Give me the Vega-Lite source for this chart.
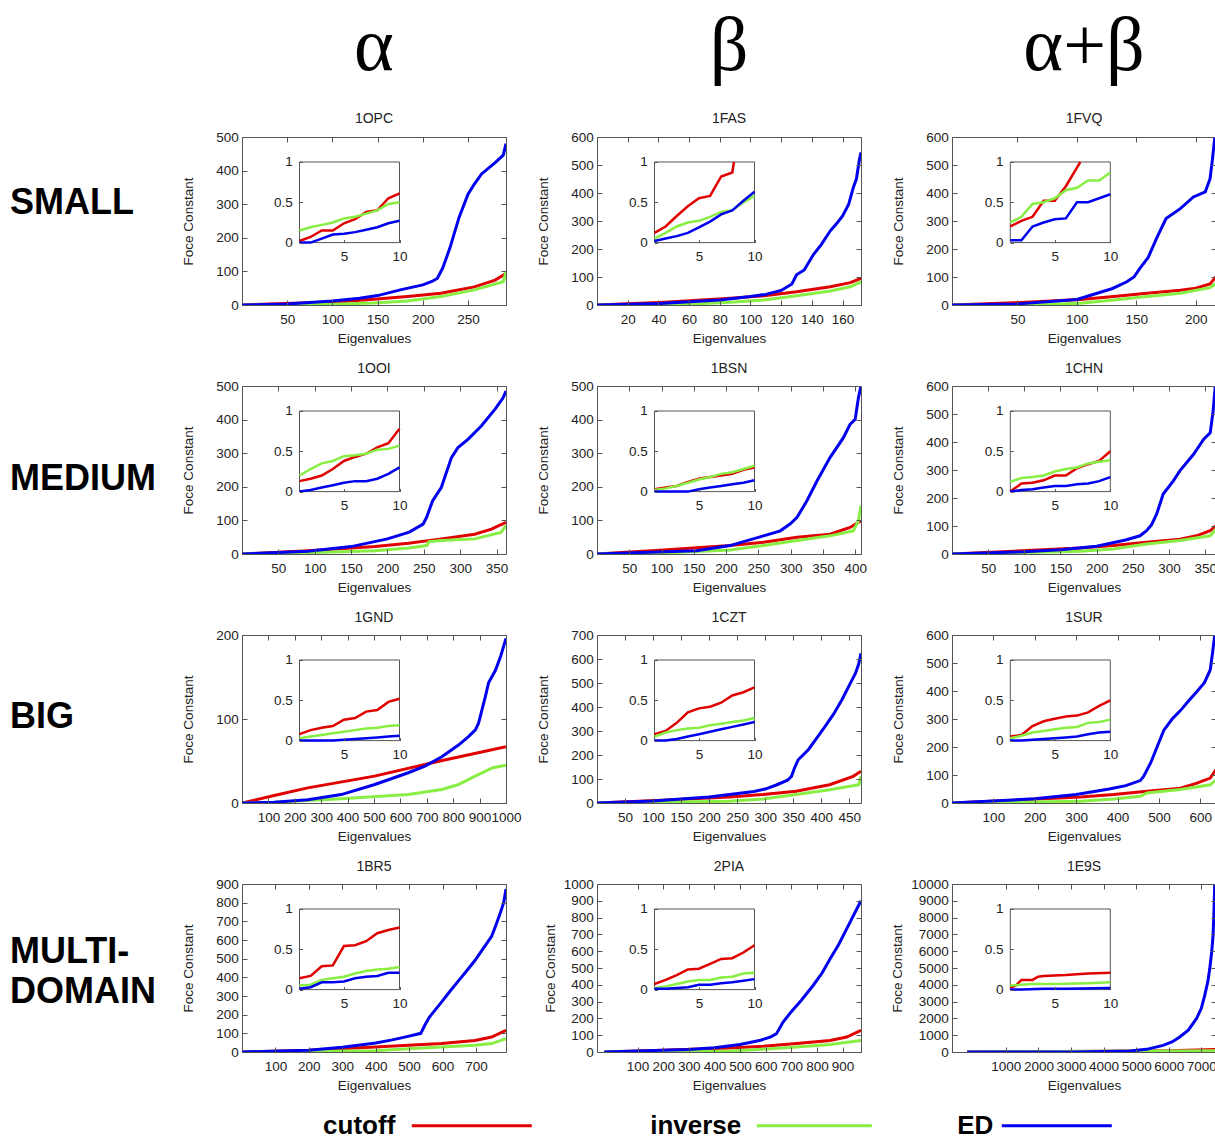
{
"$schema":"https://vega.github.io/schema/vega-lite/v6.json",
"padding":{"left":10,"top":8,"right":0,"bottom":0},
"background":"white",
"bounds":"flush",
"columns":4,
"spacing":{"row":81,"column":91},
"resolve":{"legend":{"color":"independent"}},
"config":{
 "font":"Liberation Sans",
 "view":{"stroke":"#555","strokeWidth":1},
 "axis":{"grid":false,"domain":false,"tickSize":-5,"tickColor":"#555","labelFontSize":13.5,"labelColor":"#222","labelFlush":false,"labelOverlap":false,"titleFontSize":13.5,"titleFontWeight":"normal","titleColor":"#222"},
 "axisX":{"labelPadding":12.3,"titlePadding":6},
 "axisY":{"labelPadding":8.7,"titlePadding":20},
 "title":{"fontSize":14,"fontWeight":"normal","color":"#222","offset":3,"anchor":"middle","frame":"group"},
 "legend":{"labelFontSize":26,"labelFontWeight":"bold","labelColor":"#000","labelFont":"Liberation Sans","labelAlign":"right","symbolType":"stroke","symbolStrokeWidth":9,"padding":0,"orient":"none"},
 "line":{"strokeWidth":3}
},
"datasets":{
"m1":[{"s":"cutoff","x":0,"y":0},{"s":"cutoff","x":109,"y":10},{"s":"cutoff","x":146,"y":17},{"s":"cutoff","x":183,"y":25},{"s":"cutoff","x":220,"y":35},{"s":"cutoff","x":257,"y":54},{"s":"cutoff","x":280,"y":74},{"s":"cutoff","x":292,"y":94},
{"s":"inverse","x":0,"y":0},{"s":"inverse","x":100,"y":2},{"s":"inverse","x":146,"y":6},{"s":"inverse","x":183,"y":12},{"s":"inverse","x":220,"y":25},{"s":"inverse","x":257,"y":45},{"s":"inverse","x":289,"y":69},{"s":"inverse","x":292,"y":99},
{"s":"ED","x":0,"y":0},{"s":"ED","x":50,"y":3},{"s":"ED","x":100,"y":12},{"s":"ED","x":130,"y":20},{"s":"ED","x":150,"y":28},{"s":"ED","x":175,"y":45},{"s":"ED","x":200,"y":60},{"s":"ED","x":210,"y":70},{"s":"ED","x":216,"y":79},{"s":"ED","x":222,"y":110},{"s":"ED","x":230,"y":170},{"s":"ED","x":240,"y":260},{"s":"ED","x":250,"y":330},{"s":"ED","x":257,"y":360},{"s":"ED","x":265,"y":390},{"s":"ED","x":280,"y":424},{"s":"ED","x":289,"y":446},{"s":"ED","x":292,"y":480}],
"i1":[{"s":"cutoff","x":1,"y":0.02},{"s":"cutoff","x":2,"y":0.07},{"s":"cutoff","x":3,"y":0.15},{"s":"cutoff","x":4,"y":0.15},{"s":"cutoff","x":5,"y":0.24},{"s":"cutoff","x":6,"y":0.29},{"s":"cutoff","x":7,"y":0.38},{"s":"cutoff","x":8,"y":0.4},{"s":"cutoff","x":9,"y":0.55},{"s":"cutoff","x":10,"y":0.61},
{"s":"inverse","x":1,"y":0.15},{"s":"inverse","x":2,"y":0.19},{"s":"inverse","x":3,"y":0.22},{"s":"inverse","x":4,"y":0.25},{"s":"inverse","x":5,"y":0.3},{"s":"inverse","x":6,"y":0.32},{"s":"inverse","x":7,"y":0.36},{"s":"inverse","x":8,"y":0.4},{"s":"inverse","x":9,"y":0.48},{"s":"inverse","x":10,"y":0.5},
{"s":"ED","x":1,"y":0},{"s":"ED","x":2,"y":0},{"s":"ED","x":3,"y":0.05},{"s":"ED","x":4,"y":0.1},{"s":"ED","x":5,"y":0.11},{"s":"ED","x":6,"y":0.13},{"s":"ED","x":7,"y":0.16},{"s":"ED","x":8,"y":0.19},{"s":"ED","x":9,"y":0.24},{"s":"ED","x":10,"y":0.27}],
"m2":[{"s":"cutoff","x":0,"y":0},{"s":"cutoff","x":44,"y":10},{"s":"cutoff","x":87,"y":24},{"s":"cutoff","x":109,"y":33},{"s":"cutoff","x":130,"y":47},{"s":"cutoff","x":152,"y":65},{"s":"cutoff","x":165,"y":80},{"s":"cutoff","x":172,"y":95},
{"s":"inverse","x":0,"y":0},{"s":"inverse","x":60,"y":3},{"s":"inverse","x":87,"y":10},{"s":"inverse","x":109,"y":18},{"s":"inverse","x":130,"y":33},{"s":"inverse","x":152,"y":50},{"s":"inverse","x":165,"y":65},{"s":"inverse","x":172,"y":83},
{"s":"ED","x":0,"y":0},{"s":"ED","x":40,"y":5},{"s":"ED","x":80,"y":18},{"s":"ED","x":100,"y":30},{"s":"ED","x":110,"y":38},{"s":"ED","x":120,"y":52},{"s":"ED","x":127,"y":75},{"s":"ED","x":130,"y":108},{"s":"ED","x":135,"y":125},{"s":"ED","x":141,"y":180},{"s":"ED","x":146,"y":215},{"s":"ED","x":152,"y":265},{"s":"ED","x":156,"y":290},{"s":"ED","x":160,"y":318},{"s":"ED","x":164,"y":360},{"s":"ED","x":167,"y":420},{"s":"ED","x":169,"y":450},{"s":"ED","x":171,"y":520},{"s":"ED","x":172,"y":545}],
"i2":[{"s":"cutoff","x":1,"y":0.12},{"s":"cutoff","x":2,"y":0.2},{"s":"cutoff","x":3,"y":0.33},{"s":"cutoff","x":4,"y":0.45},{"s":"cutoff","x":5,"y":0.55},{"s":"cutoff","x":6,"y":0.58},{"s":"cutoff","x":7,"y":0.82},{"s":"cutoff","x":8,"y":0.87},{"s":"cutoff","x":8.15,"y":1},
{"s":"inverse","x":1,"y":0.05},{"s":"inverse","x":2,"y":0.12},{"s":"inverse","x":3,"y":0.2},{"s":"inverse","x":4,"y":0.25},{"s":"inverse","x":5,"y":0.27},{"s":"inverse","x":6,"y":0.32},{"s":"inverse","x":7,"y":0.38},{"s":"inverse","x":8,"y":0.4},{"s":"inverse","x":9,"y":0.5},{"s":"inverse","x":10,"y":0.58},
{"s":"ED","x":1,"y":0.02},{"s":"ED","x":2,"y":0.05},{"s":"ED","x":3,"y":0.08},{"s":"ED","x":4,"y":0.12},{"s":"ED","x":5,"y":0.19},{"s":"ED","x":6,"y":0.26},{"s":"ED","x":7,"y":0.35},{"s":"ED","x":8,"y":0.4},{"s":"ED","x":9,"y":0.52},{"s":"ED","x":10,"y":0.63}],
"m3":[{"s":"cutoff","x":-5,"y":0},{"s":"cutoff","x":47,"y":8},{"s":"cutoff","x":103,"y":20},{"s":"cutoff","x":131,"y":30},{"s":"cutoff","x":159,"y":42},{"s":"cutoff","x":187,"y":53},{"s":"cutoff","x":200,"y":60},{"s":"cutoff","x":212,"y":75},{"s":"cutoff","x":217,"y":101},
{"s":"inverse","x":-5,"y":0},{"s":"inverse","x":60,"y":1},{"s":"inverse","x":103,"y":6},{"s":"inverse","x":131,"y":18},{"s":"inverse","x":159,"y":30},{"s":"inverse","x":187,"y":42},{"s":"inverse","x":212,"y":62},{"s":"inverse","x":217,"y":77},
{"s":"ED","x":-5,"y":0},{"s":"ED","x":50,"y":4},{"s":"ED","x":100,"y":20},{"s":"ED","x":130,"y":59},{"s":"ED","x":142,"y":83},{"s":"ED","x":148,"y":100},{"s":"ED","x":153,"y":131},{"s":"ED","x":160,"y":170},{"s":"ED","x":167,"y":238},{"s":"ED","x":175,"y":309},{"s":"ED","x":187,"y":344},{"s":"ED","x":198,"y":386},{"s":"ED","x":208,"y":404},{"s":"ED","x":212,"y":451},{"s":"ED","x":214,"y":520},{"s":"ED","x":216,"y":600}],
"i3":[{"s":"cutoff","x":1,"y":0.2},{"s":"cutoff","x":2,"y":0.27},{"s":"cutoff","x":3,"y":0.32},{"s":"cutoff","x":4,"y":0.52},{"s":"cutoff","x":5,"y":0.52},{"s":"cutoff","x":6,"y":0.7},{"s":"cutoff","x":7,"y":0.93},{"s":"cutoff","x":7.3,"y":1},
{"s":"inverse","x":1,"y":0.25},{"s":"inverse","x":2,"y":0.32},{"s":"inverse","x":3,"y":0.48},{"s":"inverse","x":4,"y":0.5},{"s":"inverse","x":5,"y":0.55},{"s":"inverse","x":6,"y":0.65},{"s":"inverse","x":7,"y":0.68},{"s":"inverse","x":8,"y":0.77},{"s":"inverse","x":9,"y":0.77},{"s":"inverse","x":10,"y":0.87},
{"s":"ED","x":1,"y":0.03},{"s":"ED","x":2,"y":0.03},{"s":"ED","x":3,"y":0.2},{"s":"ED","x":4,"y":0.25},{"s":"ED","x":5,"y":0.29},{"s":"ED","x":6,"y":0.3},{"s":"ED","x":7,"y":0.5},{"s":"ED","x":8,"y":0.5},{"s":"ED","x":9,"y":0.55},{"s":"ED","x":10,"y":0.6}],
"m4":[{"s":"cutoff","x":0,"y":0},{"s":"cutoff","x":91,"y":10},{"s":"cutoff","x":183,"y":22},{"s":"cutoff","x":229,"y":32},{"s":"cutoff","x":274,"y":45},{"s":"cutoff","x":320,"y":59},{"s":"cutoff","x":343,"y":74},{"s":"cutoff","x":363,"y":94},
{"s":"inverse","x":0,"y":0},{"s":"inverse","x":91,"y":4},{"s":"inverse","x":183,"y":10},{"s":"inverse","x":229,"y":18},{"s":"inverse","x":254,"y":25},{"s":"inverse","x":257,"y":37},{"s":"inverse","x":274,"y":40},{"s":"inverse","x":320,"y":45},{"s":"inverse","x":356,"y":64},{"s":"inverse","x":363,"y":84},
{"s":"ED","x":0,"y":0},{"s":"ED","x":91,"y":8},{"s":"ED","x":150,"y":22},{"s":"ED","x":200,"y":45},{"s":"ED","x":230,"y":65},{"s":"ED","x":249,"y":89},{"s":"ED","x":254,"y":110},{"s":"ED","x":262,"y":158},{"s":"ED","x":274,"y":198},{"s":"ED","x":288,"y":287},{"s":"ED","x":297,"y":317},{"s":"ED","x":311,"y":342},{"s":"ED","x":329,"y":381},{"s":"ED","x":348,"y":431},{"s":"ED","x":359,"y":465},{"s":"ED","x":363,"y":485}],
"i4":[{"s":"cutoff","x":1,"y":0.13},{"s":"cutoff","x":2,"y":0.16},{"s":"cutoff","x":3,"y":0.2},{"s":"cutoff","x":4,"y":0.28},{"s":"cutoff","x":5,"y":0.38},{"s":"cutoff","x":6,"y":0.43},{"s":"cutoff","x":7,"y":0.47},{"s":"cutoff","x":8,"y":0.55},{"s":"cutoff","x":9,"y":0.6},{"s":"cutoff","x":10,"y":0.78},
{"s":"inverse","x":1,"y":0.2},{"s":"inverse","x":2,"y":0.28},{"s":"inverse","x":3,"y":0.35},{"s":"inverse","x":4,"y":0.38},{"s":"inverse","x":5,"y":0.44},{"s":"inverse","x":6,"y":0.45},{"s":"inverse","x":7,"y":0.47},{"s":"inverse","x":8,"y":0.52},{"s":"inverse","x":9,"y":0.53},{"s":"inverse","x":10,"y":0.57},
{"s":"ED","x":1,"y":0},{"s":"ED","x":2,"y":0.02},{"s":"ED","x":3,"y":0.05},{"s":"ED","x":4,"y":0.08},{"s":"ED","x":5,"y":0.11},{"s":"ED","x":6,"y":0.13},{"s":"ED","x":7,"y":0.13},{"s":"ED","x":8,"y":0.16},{"s":"ED","x":9,"y":0.22},{"s":"ED","x":10,"y":0.3}],
"m5":[{"s":"cutoff","x":0,"y":0},{"s":"cutoff","x":103,"y":12},{"s":"cutoff","x":206,"y":25},{"s":"cutoff","x":258,"y":35},{"s":"cutoff","x":310,"y":50},{"s":"cutoff","x":361,"y":59},{"s":"cutoff","x":392,"y":79},{"s":"cutoff","x":409,"y":99},
{"s":"inverse","x":0,"y":0},{"s":"inverse","x":103,"y":3},{"s":"inverse","x":206,"y":12},{"s":"inverse","x":258,"y":25},{"s":"inverse","x":310,"y":40},{"s":"inverse","x":361,"y":54},{"s":"inverse","x":397,"y":69},{"s":"inverse","x":405,"y":99},{"s":"inverse","x":409,"y":144},
{"s":"ED","x":0,"y":0},{"s":"ED","x":154,"y":10},{"s":"ED","x":206,"y":25},{"s":"ED","x":258,"y":54},{"s":"ED","x":284,"y":69},{"s":"ED","x":299,"y":89},{"s":"ED","x":310,"y":109},{"s":"ED","x":325,"y":158},{"s":"ED","x":341,"y":218},{"s":"ED","x":361,"y":287},{"s":"ED","x":382,"y":347},{"s":"ED","x":392,"y":386},{"s":"ED","x":400,"y":401},{"s":"ED","x":405,"y":465},{"s":"ED","x":409,"y":500}],
"i5":[{"s":"cutoff","x":1,"y":0.03},{"s":"cutoff","x":2,"y":0.05},{"s":"cutoff","x":3,"y":0.07},{"s":"cutoff","x":4,"y":0.12},{"s":"cutoff","x":5,"y":0.16},{"s":"cutoff","x":6,"y":0.18},{"s":"cutoff","x":7,"y":0.2},{"s":"cutoff","x":8,"y":0.22},{"s":"cutoff","x":9,"y":0.27},{"s":"cutoff","x":10,"y":0.3},
{"s":"inverse","x":1,"y":0.02},{"s":"inverse","x":2,"y":0.04},{"s":"inverse","x":3,"y":0.07},{"s":"inverse","x":4,"y":0.11},{"s":"inverse","x":5,"y":0.15},{"s":"inverse","x":6,"y":0.18},{"s":"inverse","x":7,"y":0.22},{"s":"inverse","x":8,"y":0.24},{"s":"inverse","x":9,"y":0.28},{"s":"inverse","x":10,"y":0.32},
{"s":"ED","x":1,"y":0},{"s":"ED","x":2,"y":0},{"s":"ED","x":3,"y":0},{"s":"ED","x":4,"y":0},{"s":"ED","x":5,"y":0.03},{"s":"ED","x":6,"y":0.05},{"s":"ED","x":7,"y":0.07},{"s":"ED","x":8,"y":0.09},{"s":"ED","x":9,"y":0.11},{"s":"ED","x":10,"y":0.14}],
"m6":[{"s":"cutoff","x":0,"y":0},{"s":"cutoff","x":85,"y":10},{"s":"cutoff","x":177,"y":21},{"s":"cutoff","x":223,"y":30},{"s":"cutoff","x":269,"y":42},{"s":"cutoff","x":315,"y":53},{"s":"cutoff","x":338,"y":65},{"s":"cutoff","x":357,"y":83},{"s":"cutoff","x":365,"y":101},
{"s":"inverse","x":0,"y":0},{"s":"inverse","x":85,"y":4},{"s":"inverse","x":177,"y":10},{"s":"inverse","x":223,"y":18},{"s":"inverse","x":269,"y":36},{"s":"inverse","x":315,"y":48},{"s":"inverse","x":357,"y":65},{"s":"inverse","x":365,"y":89},
{"s":"ED","x":0,"y":0},{"s":"ED","x":100,"y":8},{"s":"ED","x":150,"y":15},{"s":"ED","x":200,"y":28},{"s":"ED","x":240,"y":50},{"s":"ED","x":260,"y":65},{"s":"ED","x":269,"y":83},{"s":"ED","x":276,"y":105},{"s":"ED","x":283,"y":143},{"s":"ED","x":292,"y":214},{"s":"ED","x":306,"y":261},{"s":"ED","x":315,"y":297},{"s":"ED","x":334,"y":356},{"s":"ED","x":348,"y":410},{"s":"ED","x":357,"y":433},{"s":"ED","x":361,"y":510},{"s":"ED","x":363,"y":570},{"s":"ED","x":364,"y":600}],
"i6":[{"s":"cutoff","x":1,"y":0},{"s":"cutoff","x":2,"y":0.1},{"s":"cutoff","x":3,"y":0.11},{"s":"cutoff","x":4,"y":0.14},{"s":"cutoff","x":5,"y":0.2},{"s":"cutoff","x":6,"y":0.2},{"s":"cutoff","x":7,"y":0.29},{"s":"cutoff","x":8,"y":0.34},{"s":"cutoff","x":9,"y":0.38},{"s":"cutoff","x":10,"y":0.5},
{"s":"inverse","x":1,"y":0.12},{"s":"inverse","x":2,"y":0.17},{"s":"inverse","x":3,"y":0.18},{"s":"inverse","x":4,"y":0.2},{"s":"inverse","x":5,"y":0.25},{"s":"inverse","x":6,"y":0.28},{"s":"inverse","x":7,"y":0.3},{"s":"inverse","x":8,"y":0.35},{"s":"inverse","x":9,"y":0.37},{"s":"inverse","x":10,"y":0.39},
{"s":"ED","x":1,"y":0},{"s":"ED","x":2,"y":0.02},{"s":"ED","x":3,"y":0.03},{"s":"ED","x":4,"y":0.05},{"s":"ED","x":5,"y":0.07},{"s":"ED","x":6,"y":0.07},{"s":"ED","x":7,"y":0.09},{"s":"ED","x":8,"y":0.1},{"s":"ED","x":9,"y":0.13},{"s":"ED","x":10,"y":0.18}],
"m7":[{"s":"cutoff","x":0,"y":0},{"s":"cutoff","x":122,"y":9},{"s":"cutoff","x":249,"y":18},{"s":"cutoff","x":502,"y":32},{"s":"cutoff","x":750,"y":50},{"s":"cutoff","x":1000,"y":67},
{"s":"inverse","x":0,"y":0},{"s":"inverse","x":122,"y":1},{"s":"inverse","x":376,"y":5},{"s":"inverse","x":630,"y":10},{"s":"inverse","x":757,"y":16},{"s":"inverse","x":820,"y":22},{"s":"inverse","x":883,"y":32},{"s":"inverse","x":950,"y":42},{"s":"inverse","x":1000,"y":45},
{"s":"ED","x":0,"y":0},{"s":"ED","x":122,"y":1},{"s":"ED","x":249,"y":4},{"s":"ED","x":376,"y":10},{"s":"ED","x":503,"y":22},{"s":"ED","x":630,"y":36},{"s":"ED","x":693,"y":44},{"s":"ED","x":757,"y":55},{"s":"ED","x":820,"y":69},{"s":"ED","x":858,"y":79},{"s":"ED","x":884,"y":87},{"s":"ED","x":896,"y":95},{"s":"ED","x":909,"y":111},{"s":"ED","x":922,"y":127},{"s":"ED","x":934,"y":143},{"s":"ED","x":960,"y":158},{"s":"ED","x":980,"y":175},{"s":"ED","x":1000,"y":196}],
"i7":[{"s":"cutoff","x":1,"y":0.08},{"s":"cutoff","x":2,"y":0.13},{"s":"cutoff","x":3,"y":0.16},{"s":"cutoff","x":4,"y":0.18},{"s":"cutoff","x":5,"y":0.26},{"s":"cutoff","x":6,"y":0.28},{"s":"cutoff","x":7,"y":0.36},{"s":"cutoff","x":8,"y":0.38},{"s":"cutoff","x":9,"y":0.48},{"s":"cutoff","x":10,"y":0.52},
{"s":"inverse","x":1,"y":0.03},{"s":"inverse","x":2,"y":0.05},{"s":"inverse","x":3,"y":0.07},{"s":"inverse","x":4,"y":0.09},{"s":"inverse","x":5,"y":0.11},{"s":"inverse","x":6,"y":0.13},{"s":"inverse","x":7,"y":0.15},{"s":"inverse","x":8,"y":0.16},{"s":"inverse","x":9,"y":0.18},{"s":"inverse","x":10,"y":0.19},
{"s":"ED","x":1,"y":0},{"s":"ED","x":2,"y":0},{"s":"ED","x":3,"y":0},{"s":"ED","x":4,"y":0},{"s":"ED","x":5,"y":0.01},{"s":"ED","x":6,"y":0.02},{"s":"ED","x":7,"y":0.03},{"s":"ED","x":8,"y":0.04},{"s":"ED","x":9,"y":0.05},{"s":"ED","x":10,"y":0.06}],
"m8":[{"s":"cutoff","x":0,"y":0},{"s":"cutoff","x":116,"y":11},{"s":"cutoff","x":236,"y":25},{"s":"cutoff","x":296,"y":35},{"s":"cutoff","x":355,"y":49},{"s":"cutoff","x":415,"y":76},{"s":"cutoff","x":457,"y":111},{"s":"cutoff","x":471,"y":132},
{"s":"inverse","x":0,"y":0},{"s":"inverse","x":236,"y":7},{"s":"inverse","x":296,"y":17},{"s":"inverse","x":355,"y":35},{"s":"inverse","x":415,"y":55},{"s":"inverse","x":467,"y":76},{"s":"inverse","x":471,"y":111},
{"s":"ED","x":0,"y":0},{"s":"ED","x":100,"y":8},{"s":"ED","x":200,"y":25},{"s":"ED","x":280,"y":48},{"s":"ED","x":300,"y":58},{"s":"ED","x":320,"y":75},{"s":"ED","x":340,"y":95},{"s":"ED","x":347,"y":111},{"s":"ED","x":353,"y":150},{"s":"ED","x":359,"y":180},{"s":"ED","x":377,"y":222},{"s":"ED","x":392,"y":270},{"s":"ED","x":407,"y":319},{"s":"ED","x":422,"y":370},{"s":"ED","x":437,"y":430},{"s":"ED","x":450,"y":490},{"s":"ED","x":461,"y":540},{"s":"ED","x":467,"y":580},{"s":"ED","x":471,"y":624}],
"i8":[{"s":"cutoff","x":1,"y":0.08},{"s":"cutoff","x":2,"y":0.12},{"s":"cutoff","x":3,"y":0.22},{"s":"cutoff","x":4,"y":0.35},{"s":"cutoff","x":5,"y":0.4},{"s":"cutoff","x":6,"y":0.42},{"s":"cutoff","x":7,"y":0.47},{"s":"cutoff","x":8,"y":0.56},{"s":"cutoff","x":9,"y":0.6},{"s":"cutoff","x":10,"y":0.66},
{"s":"inverse","x":1,"y":0.05},{"s":"inverse","x":2,"y":0.1},{"s":"inverse","x":3,"y":0.13},{"s":"inverse","x":4,"y":0.15},{"s":"inverse","x":5,"y":0.16},{"s":"inverse","x":6,"y":0.19},{"s":"inverse","x":7,"y":0.21},{"s":"inverse","x":8,"y":0.23},{"s":"inverse","x":9,"y":0.25},{"s":"inverse","x":10,"y":0.28},
{"s":"ED","x":1,"y":0},{"s":"ED","x":2,"y":0},{"s":"ED","x":3,"y":0.02},{"s":"ED","x":4,"y":0.05},{"s":"ED","x":5,"y":0.08},{"s":"ED","x":6,"y":0.11},{"s":"ED","x":7,"y":0.14},{"s":"ED","x":8,"y":0.17},{"s":"ED","x":9,"y":0.2},{"s":"ED","x":10,"y":0.23}],
"m9":[{"s":"cutoff","x":0,"y":0},{"s":"cutoff","x":150,"y":10},{"s":"cutoff","x":311,"y":21},{"s":"cutoff","x":391,"y":30},{"s":"cutoff","x":471,"y":42},{"s":"cutoff","x":552,"y":53},{"s":"cutoff","x":592,"y":71},{"s":"cutoff","x":624,"y":89},{"s":"cutoff","x":638,"y":119},
{"s":"inverse","x":0,"y":0},{"s":"inverse","x":311,"y":6},{"s":"inverse","x":391,"y":14},{"s":"inverse","x":455,"y":24},{"s":"inverse","x":471,"y":36},{"s":"inverse","x":552,"y":48},{"s":"inverse","x":624,"y":65},{"s":"inverse","x":638,"y":83},
{"s":"ED","x":0,"y":0},{"s":"ED","x":200,"y":15},{"s":"ED","x":300,"y":30},{"s":"ED","x":380,"y":50},{"s":"ED","x":420,"y":62},{"s":"ED","x":455,"y":80},{"s":"ED","x":463,"y":95},{"s":"ED","x":480,"y":143},{"s":"ED","x":496,"y":202},{"s":"ED","x":512,"y":260},{"s":"ED","x":532,"y":300},{"s":"ED","x":552,"y":330},{"s":"ED","x":572,"y":365},{"s":"ED","x":592,"y":398},{"s":"ED","x":610,"y":430},{"s":"ED","x":624,"y":475},{"s":"ED","x":630,"y":540},{"s":"ED","x":635,"y":600}],
"i9":[{"s":"cutoff","x":1,"y":0.05},{"s":"cutoff","x":2,"y":0.07},{"s":"cutoff","x":3,"y":0.18},{"s":"cutoff","x":4,"y":0.24},{"s":"cutoff","x":5,"y":0.27},{"s":"cutoff","x":6,"y":0.3},{"s":"cutoff","x":7,"y":0.31},{"s":"cutoff","x":8,"y":0.35},{"s":"cutoff","x":9,"y":0.43},{"s":"cutoff","x":10,"y":0.5},
{"s":"inverse","x":1,"y":0.03},{"s":"inverse","x":2,"y":0.06},{"s":"inverse","x":3,"y":0.1},{"s":"inverse","x":4,"y":0.12},{"s":"inverse","x":5,"y":0.14},{"s":"inverse","x":6,"y":0.16},{"s":"inverse","x":7,"y":0.17},{"s":"inverse","x":8,"y":0.22},{"s":"inverse","x":9,"y":0.23},{"s":"inverse","x":10,"y":0.26},
{"s":"ED","x":1,"y":0},{"s":"ED","x":2,"y":0},{"s":"ED","x":3,"y":0.01},{"s":"ED","x":4,"y":0.02},{"s":"ED","x":5,"y":0.03},{"s":"ED","x":6,"y":0.04},{"s":"ED","x":7,"y":0.05},{"s":"ED","x":8,"y":0.08},{"s":"ED","x":9,"y":0.1},{"s":"ED","x":10,"y":0.11}],
"m10":[{"s":"cutoff","x":0,"y":0},{"s":"cutoff","x":200,"y":9},{"s":"cutoff","x":399,"y":27},{"s":"cutoff","x":498,"y":36},{"s":"cutoff","x":597,"y":45},{"s":"cutoff","x":697,"y":62},{"s":"cutoff","x":747,"y":80},{"s":"cutoff","x":790,"y":116},
{"s":"inverse","x":0,"y":0},{"s":"inverse","x":399,"y":7},{"s":"inverse","x":498,"y":18},{"s":"inverse","x":597,"y":27},{"s":"inverse","x":697,"y":36},{"s":"inverse","x":747,"y":45},{"s":"inverse","x":790,"y":71},
{"s":"ED","x":0,"y":0},{"s":"ED","x":200,"y":10},{"s":"ED","x":300,"y":25},{"s":"ED","x":400,"y":48},{"s":"ED","x":450,"y":65},{"s":"ED","x":500,"y":85},{"s":"ED","x":535,"y":100},{"s":"ED","x":547,"y":143},{"s":"ED","x":560,"y":185},{"s":"ED","x":580,"y":230},{"s":"ED","x":597,"y":267},{"s":"ED","x":620,"y":320},{"s":"ED","x":647,"y":380},{"s":"ED","x":670,"y":430},{"s":"ED","x":697,"y":490},{"s":"ED","x":720,"y":550},{"s":"ED","x":747,"y":620},{"s":"ED","x":760,"y":680},{"s":"ED","x":772,"y":740},{"s":"ED","x":783,"y":800},{"s":"ED","x":790,"y":873}],
"i10":[{"s":"cutoff","x":1,"y":0.14},{"s":"cutoff","x":2,"y":0.17},{"s":"cutoff","x":3,"y":0.29},{"s":"cutoff","x":4,"y":0.3},{"s":"cutoff","x":5,"y":0.54},{"s":"cutoff","x":6,"y":0.55},{"s":"cutoff","x":7,"y":0.6},{"s":"cutoff","x":8,"y":0.7},{"s":"cutoff","x":9,"y":0.74},{"s":"cutoff","x":10,"y":0.77},
{"s":"inverse","x":1,"y":0.05},{"s":"inverse","x":2,"y":0.06},{"s":"inverse","x":3,"y":0.12},{"s":"inverse","x":4,"y":0.14},{"s":"inverse","x":5,"y":0.16},{"s":"inverse","x":6,"y":0.2},{"s":"inverse","x":7,"y":0.23},{"s":"inverse","x":8,"y":0.25},{"s":"inverse","x":9,"y":0.26},{"s":"inverse","x":10,"y":0.28},
{"s":"ED","x":1,"y":0.01},{"s":"ED","x":2,"y":0.03},{"s":"ED","x":3,"y":0.09},{"s":"ED","x":4,"y":0.09},{"s":"ED","x":5,"y":0.1},{"s":"ED","x":6,"y":0.14},{"s":"ED","x":7,"y":0.16},{"s":"ED","x":8,"y":0.17},{"s":"ED","x":9,"y":0.21},{"s":"ED","x":10,"y":0.21}],
"m11":[{"s":"cutoff","x":-30,"y":0},{"s":"cutoff","x":198,"y":10},{"s":"cutoff","x":459,"y":24},{"s":"cutoff","x":590,"y":34},{"s":"cutoff","x":720,"y":50},{"s":"cutoff","x":851,"y":69},{"s":"cutoff","x":916,"y":89},{"s":"cutoff","x":972,"y":129},
{"s":"inverse","x":-30,"y":0},{"s":"inverse","x":459,"y":6},{"s":"inverse","x":590,"y":16},{"s":"inverse","x":720,"y":30},{"s":"inverse","x":851,"y":44},{"s":"inverse","x":972,"y":69},
{"s":"ED","x":-30,"y":0},{"s":"ED","x":300,"y":15},{"s":"ED","x":400,"y":25},{"s":"ED","x":500,"y":45},{"s":"ED","x":580,"y":70},{"s":"ED","x":620,"y":90},{"s":"ED","x":642,"y":109},{"s":"ED","x":668,"y":178},{"s":"ED","x":700,"y":240},{"s":"ED","x":740,"y":310},{"s":"ED","x":785,"y":396},{"s":"ED","x":820,"y":470},{"s":"ED","x":851,"y":554},{"s":"ED","x":885,"y":640},{"s":"ED","x":916,"y":733},{"s":"ED","x":949,"y":832},{"s":"ED","x":972,"y":900}],
"i11":[{"s":"cutoff","x":1,"y":0.07},{"s":"cutoff","x":2,"y":0.12},{"s":"cutoff","x":3,"y":0.18},{"s":"cutoff","x":4,"y":0.25},{"s":"cutoff","x":5,"y":0.26},{"s":"cutoff","x":6,"y":0.32},{"s":"cutoff","x":7,"y":0.38},{"s":"cutoff","x":8,"y":0.39},{"s":"cutoff","x":9,"y":0.46},{"s":"cutoff","x":10,"y":0.55},
{"s":"inverse","x":1,"y":0.02},{"s":"inverse","x":2,"y":0.04},{"s":"inverse","x":3,"y":0.07},{"s":"inverse","x":4,"y":0.1},{"s":"inverse","x":5,"y":0.12},{"s":"inverse","x":6,"y":0.12},{"s":"inverse","x":7,"y":0.15},{"s":"inverse","x":8,"y":0.16},{"s":"inverse","x":9,"y":0.2},{"s":"inverse","x":10,"y":0.21},
{"s":"ED","x":1,"y":0.01},{"s":"ED","x":2,"y":0.01},{"s":"ED","x":3,"y":0.02},{"s":"ED","x":4,"y":0.03},{"s":"ED","x":5,"y":0.06},{"s":"ED","x":6,"y":0.06},{"s":"ED","x":7,"y":0.08},{"s":"ED","x":8,"y":0.09},{"s":"ED","x":9,"y":0.11},{"s":"ED","x":10,"y":0.13}],
"m12":[{"s":"cutoff","x":-184,"y":0},{"s":"cutoff","x":4000,"y":40},{"s":"cutoff","x":6000,"y":80},{"s":"cutoff","x":7450,"y":150},
{"s":"inverse","x":-184,"y":0},{"s":"inverse","x":7450,"y":80},
{"s":"ED","x":-184,"y":0},{"s":"ED","x":3000,"y":5},{"s":"ED","x":4000,"y":25},{"s":"ED","x":4804,"y":60},{"s":"ED","x":5315,"y":158},{"s":"ED","x":5826,"y":396},{"s":"ED","x":6100,"y":600},{"s":"ED","x":6337,"y":891},{"s":"ED","x":6600,"y":1300},{"s":"ED","x":6849,"y":1980},{"s":"ED","x":7000,"y":2600},{"s":"ED","x":7104,"y":3366},{"s":"ED","x":7200,"y":4200},{"s":"ED","x":7258,"y":4950},{"s":"ED","x":7320,"y":6000},{"s":"ED","x":7360,"y":6930},{"s":"ED","x":7390,"y":8500},{"s":"ED","x":7411,"y":10000}],
"i12":[{"s":"cutoff","x":1,"y":0.02},{"s":"cutoff","x":1.5,"y":0.05},{"s":"cutoff","x":2,"y":0.12},{"s":"cutoff","x":3,"y":0.12},{"s":"cutoff","x":3.5,"y":0.16},{"s":"cutoff","x":4,"y":0.17},{"s":"cutoff","x":6,"y":0.18},{"s":"cutoff","x":8,"y":0.2},{"s":"cutoff","x":10,"y":0.21},
{"s":"inverse","x":1,"y":0.05},{"s":"inverse","x":2,"y":0.06},{"s":"inverse","x":3,"y":0.07},{"s":"inverse","x":5,"y":0.07},{"s":"inverse","x":8,"y":0.08},{"s":"inverse","x":10,"y":0.09},
{"s":"ED","x":1,"y":0},{"s":"ED","x":2,"y":0},{"s":"ED","x":4,"y":0.01},{"s":"ED","x":6,"y":0.01},{"s":"ED","x":10,"y":0.02}]
},
"concat":[
{"width":140.7,"height":168,"view":{"stroke":null},"data":{"values":[{"label":"SMALL"}]},"mark":{"type":"text","align":"left","baseline":"middle","fontSize":36,"fontWeight":"bold","font":"Liberation Sans","color":"#000","dy":-17.7},"encoding":{"x":{"datum":0,"type":"quantitative","scale":{"domain":[0,1]},"axis":null},"text":{"field":"label"}}},
{"width":264,"height":168,"title":{"text":"α","subtitle":"1OPC","fontSize":76,"font":"Liberation Serif","color":"#000","subtitleFontSize":14,"subtitleFont":"Liberation Sans","subtitleColor":"#222","subtitlePadding":26},
 "layer":[
  {"data":{"name":"m1"},"layer":[
    {"mark":{"type":"line","clip":true},"encoding":{"x":{"field":"x","type":"quantitative","scale":{"domain":[0,292],"nice":false,"zero":false},"axis":{"values":[50,100,150,200,250],"title":"Eigenvalues","format":"d","zindex":1}},"y":{"field":"y","type":"quantitative","scale":{"domain":[0,500],"nice":false},"axis":{"values":[0,100,200,300,400,500],"title":"Foce Constant","format":"d","zindex":1}},"color":{"field":"s","type":"nominal","scale":{"domain":["cutoff","inverse","ED"],"range":["#e00000","#88ee44","#0000ee"]},"legend":null}}},
    {"mark":{"type":"line","opacity":0},"encoding":{"x":{"field":"x","type":"quantitative","axis":{"orient":"top","values":[50,100,150,200,250],"labels":false,"title":null,"zindex":1}},"y":{"field":"y","type":"quantitative","axis":{"orient":"right","values":[0,100,200,300,400,500],"labels":false,"title":null,"zindex":1}}}}
  ],"resolve":{"axis":{"x":"independent","y":"independent"}}},
  {"layer":[
    {"data":{"values":[{}]},"mark":{"type":"rect","fill":"white","stroke":"#555","strokeWidth":1},"encoding":{"x":{"datum":1,"type":"quantitative","scale":{"domain":[-4.175,19.585],"nice":false,"zero":false},"axis":{"orient":"bottom","offset":-62.4,"values":[5,10],"title":null,"tickSize":-3,"labelPadding":9.5,"format":"d","zindex":1}},"x2":{"datum":10},"y":{"datum":0,"type":"quantitative","scale":{"domain":[-0.774,1.31],"nice":false,"zero":false},"axis":{"orient":"left","offset":-57.5,"values":[0,0.5,1],"title":null,"tickSize":-3,"labelPadding":10.3,"format":".1~f","zindex":1}},"y2":{"datum":1}}},
    {"data":{"name":"i1"},"mark":{"type":"line","strokeWidth":2.5},"encoding":{"x":{"field":"x","type":"quantitative","axis":{"orient":"bottom","offset":-62.4,"values":[5,10],"title":null,"tickSize":-3,"labelPadding":9.5,"format":"d","zindex":1}},"y":{"field":"y","type":"quantitative","axis":{"orient":"left","offset":-57.5,"values":[0,0.5,1],"title":null,"tickSize":-3,"labelPadding":10.3,"format":".1~f","zindex":1}},"color":{"field":"s","type":"nominal","scale":{"domain":["cutoff","inverse","ED"],"range":["#e00000","#88ee44","#0000ee"]},"legend":null}}}
  ]}
 ],"resolve":{"scale":{"x":"independent","y":"independent"},"axis":{"x":"independent","y":"independent"}}},
{"width":264,"height":168,"title":{"text":"β","subtitle":"1FAS","fontSize":76,"font":"Liberation Serif","color":"#000","subtitleFontSize":14,"subtitleFont":"Liberation Sans","subtitleColor":"#222","subtitlePadding":26},
 "layer":[
  {"data":{"name":"m2"},"layer":[
    {"mark":{"type":"line","clip":true},"encoding":{"x":{"field":"x","type":"quantitative","scale":{"domain":[0,172],"nice":false,"zero":false},"axis":{"values":[20,40,60,80,100,120,140,160],"title":"Eigenvalues","format":"d","zindex":1}},"y":{"field":"y","type":"quantitative","scale":{"domain":[0,600],"nice":false},"axis":{"values":[0,100,200,300,400,500,600],"title":"Foce Constant","format":"d","zindex":1}},"color":{"field":"s","type":"nominal","scale":{"domain":["cutoff","inverse","ED"],"range":["#e00000","#88ee44","#0000ee"]},"legend":null}}},
    {"mark":{"type":"line","opacity":0},"encoding":{"x":{"field":"x","type":"quantitative","axis":{"orient":"top","values":[20,40,60,80,100,120,140,160],"labels":false,"title":null,"zindex":1}},"y":{"field":"y","type":"quantitative","axis":{"orient":"right","values":[0,100,200,300,400,500,600],"labels":false,"title":null,"zindex":1}}}}
  ],"resolve":{"axis":{"x":"independent","y":"independent"}}},
  {"layer":[
    {"data":{"values":[{}]},"mark":{"type":"rect","fill":"white","stroke":"#555","strokeWidth":1},"encoding":{"x":{"datum":1,"type":"quantitative","scale":{"domain":[-4.175,19.585],"nice":false,"zero":false},"axis":{"orient":"bottom","offset":-62.4,"values":[5,10],"title":null,"tickSize":-3,"labelPadding":9.5,"format":"d","zindex":1}},"x2":{"datum":10},"y":{"datum":0,"type":"quantitative","scale":{"domain":[-0.774,1.31],"nice":false,"zero":false},"axis":{"orient":"left","offset":-57.5,"values":[0,0.5,1],"title":null,"tickSize":-3,"labelPadding":10.3,"format":".1~f","zindex":1}},"y2":{"datum":1}}},
    {"data":{"name":"i2"},"mark":{"type":"line","strokeWidth":2.5},"encoding":{"x":{"field":"x","type":"quantitative","axis":{"orient":"bottom","offset":-62.4,"values":[5,10],"title":null,"tickSize":-3,"labelPadding":9.5,"format":"d","zindex":1}},"y":{"field":"y","type":"quantitative","axis":{"orient":"left","offset":-57.5,"values":[0,0.5,1],"title":null,"tickSize":-3,"labelPadding":10.3,"format":".1~f","zindex":1}},"color":{"field":"s","type":"nominal","scale":{"domain":["cutoff","inverse","ED"],"range":["#e00000","#88ee44","#0000ee"]},"legend":null}}}
  ]}
 ],"resolve":{"scale":{"x":"independent","y":"independent"},"axis":{"x":"independent","y":"independent"}}},
{"width":264,"height":168,"title":{"text":"α+β","subtitle":"1FVQ","fontSize":76,"font":"Liberation Serif","color":"#000","subtitleFontSize":14,"subtitleFont":"Liberation Sans","subtitleColor":"#222","subtitlePadding":26},
 "layer":[
  {"data":{"name":"m3"},"layer":[
    {"mark":{"type":"line","clip":true},"encoding":{"x":{"field":"x","type":"quantitative","scale":{"domain":[-5,217],"nice":false,"zero":false},"axis":{"values":[50,100,150,200],"title":"Eigenvalues","format":"d","zindex":1}},"y":{"field":"y","type":"quantitative","scale":{"domain":[0,600],"nice":false},"axis":{"values":[0,100,200,300,400,500,600],"title":"Foce Constant","format":"d","zindex":1}},"color":{"field":"s","type":"nominal","scale":{"domain":["cutoff","inverse","ED"],"range":["#e00000","#88ee44","#0000ee"]},"legend":null}}},
    {"mark":{"type":"line","opacity":0},"encoding":{"x":{"field":"x","type":"quantitative","axis":{"orient":"top","values":[50,100,150,200],"labels":false,"title":null,"zindex":1}},"y":{"field":"y","type":"quantitative","axis":{"orient":"right","values":[0,100,200,300,400,500,600],"labels":false,"title":null,"zindex":1}}}}
  ],"resolve":{"axis":{"x":"independent","y":"independent"}}},
  {"layer":[
    {"data":{"values":[{}]},"mark":{"type":"rect","fill":"white","stroke":"#555","strokeWidth":1},"encoding":{"x":{"datum":1,"type":"quantitative","scale":{"domain":[-4.247,19.513],"nice":false,"zero":false},"axis":{"orient":"bottom","offset":-62.4,"values":[5,10],"title":null,"tickSize":-3,"labelPadding":9.5,"format":"d","zindex":1}},"x2":{"datum":10},"y":{"datum":0,"type":"quantitative","scale":{"domain":[-0.774,1.31],"nice":false,"zero":false},"axis":{"orient":"left","offset":-58.3,"values":[0,0.5,1],"title":null,"tickSize":-3,"labelPadding":10.3,"format":".1~f","zindex":1}},"y2":{"datum":1}}},
    {"data":{"name":"i3"},"mark":{"type":"line","strokeWidth":2.5},"encoding":{"x":{"field":"x","type":"quantitative","axis":{"orient":"bottom","offset":-62.4,"values":[5,10],"title":null,"tickSize":-3,"labelPadding":9.5,"format":"d","zindex":1}},"y":{"field":"y","type":"quantitative","axis":{"orient":"left","offset":-58.3,"values":[0,0.5,1],"title":null,"tickSize":-3,"labelPadding":10.3,"format":".1~f","zindex":1}},"color":{"field":"s","type":"nominal","scale":{"domain":["cutoff","inverse","ED"],"range":["#e00000","#88ee44","#0000ee"]},"legend":null}}}
  ]}
 ],"resolve":{"scale":{"x":"independent","y":"independent"},"axis":{"x":"independent","y":"independent"}}},
{"width":140.7,"height":168,"view":{"stroke":null},"data":{"values":[{"label":"MEDIUM"}]},"mark":{"type":"text","align":"left","baseline":"middle","fontSize":36,"fontWeight":"bold","font":"Liberation Sans","color":"#000","dy":9.3},"encoding":{"x":{"datum":0,"type":"quantitative","scale":{"domain":[0,1]},"axis":null},"text":{"field":"label"}}},
{"width":264,"height":168,"title":{"text":"1OOI"},
 "layer":[
  {"data":{"name":"m4"},"layer":[
    {"mark":{"type":"line","clip":true},"encoding":{"x":{"field":"x","type":"quantitative","scale":{"domain":[0,363],"nice":false,"zero":false},"axis":{"values":[50,100,150,200,250,300,350],"title":"Eigenvalues","format":"d","zindex":1}},"y":{"field":"y","type":"quantitative","scale":{"domain":[0,500],"nice":false},"axis":{"values":[0,100,200,300,400,500],"title":"Foce Constant","format":"d","zindex":1}},"color":{"field":"s","type":"nominal","scale":{"domain":["cutoff","inverse","ED"],"range":["#e00000","#88ee44","#0000ee"]},"legend":null}}},
    {"mark":{"type":"line","opacity":0},"encoding":{"x":{"field":"x","type":"quantitative","axis":{"orient":"top","values":[50,100,150,200,250,300,350],"labels":false,"title":null,"zindex":1}},"y":{"field":"y","type":"quantitative","axis":{"orient":"right","values":[0,100,200,300,400,500],"labels":false,"title":null,"zindex":1}}}}
  ],"resolve":{"axis":{"x":"independent","y":"independent"}}},
  {"layer":[
    {"data":{"values":[{}]},"mark":{"type":"rect","fill":"white","stroke":"#555","strokeWidth":1},"encoding":{"x":{"datum":1,"type":"quantitative","scale":{"domain":[-4.175,19.585],"nice":false,"zero":false},"axis":{"orient":"bottom","offset":-62.4,"values":[5,10],"title":null,"tickSize":-3,"labelPadding":9.5,"format":"d","zindex":1}},"x2":{"datum":10},"y":{"datum":0,"type":"quantitative","scale":{"domain":[-0.774,1.31],"nice":false,"zero":false},"axis":{"orient":"left","offset":-57.5,"values":[0,0.5,1],"title":null,"tickSize":-3,"labelPadding":10.3,"format":".1~f","zindex":1}},"y2":{"datum":1}}},
    {"data":{"name":"i4"},"mark":{"type":"line","strokeWidth":2.5},"encoding":{"x":{"field":"x","type":"quantitative","axis":{"orient":"bottom","offset":-62.4,"values":[5,10],"title":null,"tickSize":-3,"labelPadding":9.5,"format":"d","zindex":1}},"y":{"field":"y","type":"quantitative","axis":{"orient":"left","offset":-57.5,"values":[0,0.5,1],"title":null,"tickSize":-3,"labelPadding":10.3,"format":".1~f","zindex":1}},"color":{"field":"s","type":"nominal","scale":{"domain":["cutoff","inverse","ED"],"range":["#e00000","#88ee44","#0000ee"]},"legend":null}}}
  ]}
 ],"resolve":{"scale":{"x":"independent","y":"independent"},"axis":{"x":"independent","y":"independent"}}},
{"width":264,"height":168,"title":{"text":"1BSN"},
 "layer":[
  {"data":{"name":"m5"},"layer":[
    {"mark":{"type":"line","clip":true},"encoding":{"x":{"field":"x","type":"quantitative","scale":{"domain":[0,409],"nice":false,"zero":false},"axis":{"values":[50,100,150,200,250,300,350,400],"title":"Eigenvalues","format":"d","zindex":1}},"y":{"field":"y","type":"quantitative","scale":{"domain":[0,500],"nice":false},"axis":{"values":[0,100,200,300,400,500],"title":"Foce Constant","format":"d","zindex":1}},"color":{"field":"s","type":"nominal","scale":{"domain":["cutoff","inverse","ED"],"range":["#e00000","#88ee44","#0000ee"]},"legend":null}}},
    {"mark":{"type":"line","opacity":0},"encoding":{"x":{"field":"x","type":"quantitative","axis":{"orient":"top","values":[50,100,150,200,250,300,350,400],"labels":false,"title":null,"zindex":1}},"y":{"field":"y","type":"quantitative","axis":{"orient":"right","values":[0,100,200,300,400,500],"labels":false,"title":null,"zindex":1}}}}
  ],"resolve":{"axis":{"x":"independent","y":"independent"}}},
  {"layer":[
    {"data":{"values":[{}]},"mark":{"type":"rect","fill":"white","stroke":"#555","strokeWidth":1},"encoding":{"x":{"datum":1,"type":"quantitative","scale":{"domain":[-4.175,19.585],"nice":false,"zero":false},"axis":{"orient":"bottom","offset":-62.4,"values":[5,10],"title":null,"tickSize":-3,"labelPadding":9.5,"format":"d","zindex":1}},"x2":{"datum":10},"y":{"datum":0,"type":"quantitative","scale":{"domain":[-0.774,1.31],"nice":false,"zero":false},"axis":{"orient":"left","offset":-57.5,"values":[0,0.5,1],"title":null,"tickSize":-3,"labelPadding":10.3,"format":".1~f","zindex":1}},"y2":{"datum":1}}},
    {"data":{"name":"i5"},"mark":{"type":"line","strokeWidth":2.5},"encoding":{"x":{"field":"x","type":"quantitative","axis":{"orient":"bottom","offset":-62.4,"values":[5,10],"title":null,"tickSize":-3,"labelPadding":9.5,"format":"d","zindex":1}},"y":{"field":"y","type":"quantitative","axis":{"orient":"left","offset":-57.5,"values":[0,0.5,1],"title":null,"tickSize":-3,"labelPadding":10.3,"format":".1~f","zindex":1}},"color":{"field":"s","type":"nominal","scale":{"domain":["cutoff","inverse","ED"],"range":["#e00000","#88ee44","#0000ee"]},"legend":null}}}
  ]}
 ],"resolve":{"scale":{"x":"independent","y":"independent"},"axis":{"x":"independent","y":"independent"}}},
{"width":264,"height":168,"title":{"text":"1CHN"},
 "layer":[
  {"data":{"name":"m6"},"layer":[
    {"mark":{"type":"line","clip":true},"encoding":{"x":{"field":"x","type":"quantitative","scale":{"domain":[0,365],"nice":false,"zero":false},"axis":{"values":[50,100,150,200,250,300,350],"title":"Eigenvalues","format":"d","zindex":1}},"y":{"field":"y","type":"quantitative","scale":{"domain":[0,600],"nice":false},"axis":{"values":[0,100,200,300,400,500,600],"title":"Foce Constant","format":"d","zindex":1}},"color":{"field":"s","type":"nominal","scale":{"domain":["cutoff","inverse","ED"],"range":["#e00000","#88ee44","#0000ee"]},"legend":null}}},
    {"mark":{"type":"line","opacity":0},"encoding":{"x":{"field":"x","type":"quantitative","axis":{"orient":"top","values":[50,100,150,200,250,300,350],"labels":false,"title":null,"zindex":1}},"y":{"field":"y","type":"quantitative","axis":{"orient":"right","values":[0,100,200,300,400,500,600],"labels":false,"title":null,"zindex":1}}}}
  ],"resolve":{"axis":{"x":"independent","y":"independent"}}},
  {"layer":[
    {"data":{"values":[{}]},"mark":{"type":"rect","fill":"white","stroke":"#555","strokeWidth":1},"encoding":{"x":{"datum":1,"type":"quantitative","scale":{"domain":[-4.247,19.513],"nice":false,"zero":false},"axis":{"orient":"bottom","offset":-62.4,"values":[5,10],"title":null,"tickSize":-3,"labelPadding":9.5,"format":"d","zindex":1}},"x2":{"datum":10},"y":{"datum":0,"type":"quantitative","scale":{"domain":[-0.774,1.31],"nice":false,"zero":false},"axis":{"orient":"left","offset":-58.3,"values":[0,0.5,1],"title":null,"tickSize":-3,"labelPadding":10.3,"format":".1~f","zindex":1}},"y2":{"datum":1}}},
    {"data":{"name":"i6"},"mark":{"type":"line","strokeWidth":2.5},"encoding":{"x":{"field":"x","type":"quantitative","axis":{"orient":"bottom","offset":-62.4,"values":[5,10],"title":null,"tickSize":-3,"labelPadding":9.5,"format":"d","zindex":1}},"y":{"field":"y","type":"quantitative","axis":{"orient":"left","offset":-58.3,"values":[0,0.5,1],"title":null,"tickSize":-3,"labelPadding":10.3,"format":".1~f","zindex":1}},"color":{"field":"s","type":"nominal","scale":{"domain":["cutoff","inverse","ED"],"range":["#e00000","#88ee44","#0000ee"]},"legend":null}}}
  ]}
 ],"resolve":{"scale":{"x":"independent","y":"independent"},"axis":{"x":"independent","y":"independent"}}},
{"width":140.7,"height":168,"view":{"stroke":null},"data":{"values":[{"label":"BIG"}]},"mark":{"type":"text","align":"left","baseline":"middle","fontSize":36,"fontWeight":"bold","font":"Liberation Sans","color":"#000","dy":-1.7},"encoding":{"x":{"datum":0,"type":"quantitative","scale":{"domain":[0,1]},"axis":null},"text":{"field":"label"}}},
{"width":264,"height":168,"title":{"text":"1GND"},
 "layer":[
  {"data":{"name":"m7"},"layer":[
    {"mark":{"type":"line","clip":true},"encoding":{"x":{"field":"x","type":"quantitative","scale":{"domain":[0,1000],"nice":false,"zero":false},"axis":{"values":[100,200,300,400,500,600,700,800,900,1000],"title":"Eigenvalues","format":"d","zindex":1}},"y":{"field":"y","type":"quantitative","scale":{"domain":[0,200],"nice":false},"axis":{"values":[0,100,200],"title":"Foce Constant","format":"d","zindex":1}},"color":{"field":"s","type":"nominal","scale":{"domain":["cutoff","inverse","ED"],"range":["#e00000","#88ee44","#0000ee"]},"legend":null}}},
    {"mark":{"type":"line","opacity":0},"encoding":{"x":{"field":"x","type":"quantitative","axis":{"orient":"top","values":[100,200,300,400,500,600,700,800,900,1000],"labels":false,"title":null,"zindex":1}},"y":{"field":"y","type":"quantitative","axis":{"orient":"right","values":[0,100,200],"labels":false,"title":null,"zindex":1}}}}
  ],"resolve":{"axis":{"x":"independent","y":"independent"}}},
  {"layer":[
    {"data":{"values":[{}]},"mark":{"type":"rect","fill":"white","stroke":"#555","strokeWidth":1},"encoding":{"x":{"datum":1,"type":"quantitative","scale":{"domain":[-4.175,19.585],"nice":false,"zero":false},"axis":{"orient":"bottom","offset":-62.4,"values":[5,10],"title":null,"tickSize":-3,"labelPadding":9.5,"format":"d","zindex":1}},"x2":{"datum":10},"y":{"datum":0,"type":"quantitative","scale":{"domain":[-0.774,1.31],"nice":false,"zero":false},"axis":{"orient":"left","offset":-57.5,"values":[0,0.5,1],"title":null,"tickSize":-3,"labelPadding":10.3,"format":".1~f","zindex":1}},"y2":{"datum":1}}},
    {"data":{"name":"i7"},"mark":{"type":"line","strokeWidth":2.5},"encoding":{"x":{"field":"x","type":"quantitative","axis":{"orient":"bottom","offset":-62.4,"values":[5,10],"title":null,"tickSize":-3,"labelPadding":9.5,"format":"d","zindex":1}},"y":{"field":"y","type":"quantitative","axis":{"orient":"left","offset":-57.5,"values":[0,0.5,1],"title":null,"tickSize":-3,"labelPadding":10.3,"format":".1~f","zindex":1}},"color":{"field":"s","type":"nominal","scale":{"domain":["cutoff","inverse","ED"],"range":["#e00000","#88ee44","#0000ee"]},"legend":null}}}
  ]}
 ],"resolve":{"scale":{"x":"independent","y":"independent"},"axis":{"x":"independent","y":"independent"}}},
{"width":264,"height":168,"title":{"text":"1CZT"},
 "layer":[
  {"data":{"name":"m8"},"layer":[
    {"mark":{"type":"line","clip":true},"encoding":{"x":{"field":"x","type":"quantitative","scale":{"domain":[0,471],"nice":false,"zero":false},"axis":{"values":[50,100,150,200,250,300,350,400,450],"title":"Eigenvalues","format":"d","zindex":1}},"y":{"field":"y","type":"quantitative","scale":{"domain":[0,700],"nice":false},"axis":{"values":[0,100,200,300,400,500,600,700],"title":"Foce Constant","format":"d","zindex":1}},"color":{"field":"s","type":"nominal","scale":{"domain":["cutoff","inverse","ED"],"range":["#e00000","#88ee44","#0000ee"]},"legend":null}}},
    {"mark":{"type":"line","opacity":0},"encoding":{"x":{"field":"x","type":"quantitative","axis":{"orient":"top","values":[50,100,150,200,250,300,350,400,450],"labels":false,"title":null,"zindex":1}},"y":{"field":"y","type":"quantitative","axis":{"orient":"right","values":[0,100,200,300,400,500,600,700],"labels":false,"title":null,"zindex":1}}}}
  ],"resolve":{"axis":{"x":"independent","y":"independent"}}},
  {"layer":[
    {"data":{"values":[{}]},"mark":{"type":"rect","fill":"white","stroke":"#555","strokeWidth":1},"encoding":{"x":{"datum":1,"type":"quantitative","scale":{"domain":[-4.175,19.585],"nice":false,"zero":false},"axis":{"orient":"bottom","offset":-62.4,"values":[5,10],"title":null,"tickSize":-3,"labelPadding":9.5,"format":"d","zindex":1}},"x2":{"datum":10},"y":{"datum":0,"type":"quantitative","scale":{"domain":[-0.774,1.31],"nice":false,"zero":false},"axis":{"orient":"left","offset":-57.5,"values":[0,0.5,1],"title":null,"tickSize":-3,"labelPadding":10.3,"format":".1~f","zindex":1}},"y2":{"datum":1}}},
    {"data":{"name":"i8"},"mark":{"type":"line","strokeWidth":2.5},"encoding":{"x":{"field":"x","type":"quantitative","axis":{"orient":"bottom","offset":-62.4,"values":[5,10],"title":null,"tickSize":-3,"labelPadding":9.5,"format":"d","zindex":1}},"y":{"field":"y","type":"quantitative","axis":{"orient":"left","offset":-57.5,"values":[0,0.5,1],"title":null,"tickSize":-3,"labelPadding":10.3,"format":".1~f","zindex":1}},"color":{"field":"s","type":"nominal","scale":{"domain":["cutoff","inverse","ED"],"range":["#e00000","#88ee44","#0000ee"]},"legend":null}}}
  ]}
 ],"resolve":{"scale":{"x":"independent","y":"independent"},"axis":{"x":"independent","y":"independent"}}},
{"width":264,"height":168,"title":{"text":"1SUR"},
 "layer":[
  {"data":{"name":"m9"},"layer":[
    {"mark":{"type":"line","clip":true},"encoding":{"x":{"field":"x","type":"quantitative","scale":{"domain":[0,638],"nice":false,"zero":false},"axis":{"values":[100,200,300,400,500,600],"title":"Eigenvalues","format":"d","zindex":1}},"y":{"field":"y","type":"quantitative","scale":{"domain":[0,600],"nice":false},"axis":{"values":[0,100,200,300,400,500,600],"title":"Foce Constant","format":"d","zindex":1}},"color":{"field":"s","type":"nominal","scale":{"domain":["cutoff","inverse","ED"],"range":["#e00000","#88ee44","#0000ee"]},"legend":null}}},
    {"mark":{"type":"line","opacity":0},"encoding":{"x":{"field":"x","type":"quantitative","axis":{"orient":"top","values":[100,200,300,400,500,600],"labels":false,"title":null,"zindex":1}},"y":{"field":"y","type":"quantitative","axis":{"orient":"right","values":[0,100,200,300,400,500,600],"labels":false,"title":null,"zindex":1}}}}
  ],"resolve":{"axis":{"x":"independent","y":"independent"}}},
  {"layer":[
    {"data":{"values":[{}]},"mark":{"type":"rect","fill":"white","stroke":"#555","strokeWidth":1},"encoding":{"x":{"datum":1,"type":"quantitative","scale":{"domain":[-4.247,19.513],"nice":false,"zero":false},"axis":{"orient":"bottom","offset":-62.4,"values":[5,10],"title":null,"tickSize":-3,"labelPadding":9.5,"format":"d","zindex":1}},"x2":{"datum":10},"y":{"datum":0,"type":"quantitative","scale":{"domain":[-0.774,1.31],"nice":false,"zero":false},"axis":{"orient":"left","offset":-58.3,"values":[0,0.5,1],"title":null,"tickSize":-3,"labelPadding":10.3,"format":".1~f","zindex":1}},"y2":{"datum":1}}},
    {"data":{"name":"i9"},"mark":{"type":"line","strokeWidth":2.5},"encoding":{"x":{"field":"x","type":"quantitative","axis":{"orient":"bottom","offset":-62.4,"values":[5,10],"title":null,"tickSize":-3,"labelPadding":9.5,"format":"d","zindex":1}},"y":{"field":"y","type":"quantitative","axis":{"orient":"left","offset":-58.3,"values":[0,0.5,1],"title":null,"tickSize":-3,"labelPadding":10.3,"format":".1~f","zindex":1}},"color":{"field":"s","type":"nominal","scale":{"domain":["cutoff","inverse","ED"],"range":["#e00000","#88ee44","#0000ee"]},"legend":null}}}
  ]}
 ],"resolve":{"scale":{"x":"independent","y":"independent"},"axis":{"x":"independent","y":"independent"}}},
{"width":140.7,"height":168,"view":{"stroke":null},"data":{"values":[{"label":"MULTI-\nDOMAIN"}]},"mark":{"type":"text","align":"left","baseline":"middle","fontSize":36,"fontWeight":"bold","font":"Liberation Sans","color":"#000","dy":-15.9,"lineBreak":"\n","lineHeight":39.5},"encoding":{"x":{"datum":0,"type":"quantitative","scale":{"domain":[0,1]},"axis":null},"text":{"field":"label"}}},
{"width":264,"height":168,"title":{"text":"1BR5"},
 "layer":[
  {"data":{"name":"m10"},"layer":[
    {"mark":{"type":"line","clip":true},"encoding":{"x":{"field":"x","type":"quantitative","scale":{"domain":[0,790],"nice":false,"zero":false},"axis":{"values":[100,200,300,400,500,600,700],"title":"Eigenvalues","format":"d","zindex":1}},"y":{"field":"y","type":"quantitative","scale":{"domain":[0,900],"nice":false},"axis":{"values":[0,100,200,300,400,500,600,700,800,900],"title":"Foce Constant","format":"d","zindex":1}},"color":{"field":"s","type":"nominal","scale":{"domain":["cutoff","inverse","ED"],"range":["#e00000","#88ee44","#0000ee"]},"legend":{"values":["cutoff"],"title":null,"legendX":168.3,"legendY":180.3,"symbolSize":14400,"labelOffset":-138}}}},
    {"mark":{"type":"line","opacity":0},"encoding":{"x":{"field":"x","type":"quantitative","axis":{"orient":"top","values":[100,200,300,400,500,600,700],"labels":false,"title":null,"zindex":1}},"y":{"field":"y","type":"quantitative","axis":{"orient":"right","values":[0,100,200,300,400,500,600,700,800,900],"labels":false,"title":null,"zindex":1}}}}
  ],"resolve":{"axis":{"x":"independent","y":"independent"}}},
  {"layer":[
    {"data":{"values":[{}]},"mark":{"type":"rect","fill":"white","stroke":"#555","strokeWidth":1},"encoding":{"x":{"datum":1,"type":"quantitative","scale":{"domain":[-4.175,19.585],"nice":false,"zero":false},"axis":{"orient":"bottom","offset":-62.4,"values":[5,10],"title":null,"tickSize":-3,"labelPadding":9.5,"format":"d","zindex":1}},"x2":{"datum":10},"y":{"datum":0,"type":"quantitative","scale":{"domain":[-0.774,1.31],"nice":false,"zero":false},"axis":{"orient":"left","offset":-57.5,"values":[0,0.5,1],"title":null,"tickSize":-3,"labelPadding":10.3,"format":".1~f","zindex":1}},"y2":{"datum":1}}},
    {"data":{"name":"i10"},"mark":{"type":"line","strokeWidth":2.5},"encoding":{"x":{"field":"x","type":"quantitative","axis":{"orient":"bottom","offset":-62.4,"values":[5,10],"title":null,"tickSize":-3,"labelPadding":9.5,"format":"d","zindex":1}},"y":{"field":"y","type":"quantitative","axis":{"orient":"left","offset":-57.5,"values":[0,0.5,1],"title":null,"tickSize":-3,"labelPadding":10.3,"format":".1~f","zindex":1}},"color":{"field":"s","type":"nominal","scale":{"domain":["cutoff","inverse","ED"],"range":["#e00000","#88ee44","#0000ee"]},"legend":{"values":["cutoff"],"title":null,"legendX":168.3,"legendY":180.3,"symbolSize":14400,"labelOffset":-138}}}}
  ]}
 ],"resolve":{"scale":{"x":"independent","y":"independent"},"axis":{"x":"independent","y":"independent"}}},
{"width":264,"height":168,"title":{"text":"2PIA"},
 "layer":[
  {"data":{"name":"m11"},"layer":[
    {"mark":{"type":"line","clip":true},"encoding":{"x":{"field":"x","type":"quantitative","scale":{"domain":[-58.5,972],"nice":false,"zero":false},"axis":{"values":[100,200,300,400,500,600,700,800,900],"title":"Eigenvalues","format":"d","zindex":1}},"y":{"field":"y","type":"quantitative","scale":{"domain":[0,1000],"nice":false},"axis":{"values":[0,100,200,300,400,500,600,700,800,900,1000],"title":"Foce Constant","format":"d","zindex":1,"titlePadding":5.4}},"color":{"field":"s","type":"nominal","scale":{"domain":["cutoff","inverse","ED"],"range":["#e00000","#88ee44","#0000ee"]},"legend":{"values":["inverse"],"title":null,"legendX":158.3,"legendY":182.8,"symbolSize":13225,"labelOffset":-132}}}},
    {"mark":{"type":"line","opacity":0},"encoding":{"x":{"field":"x","type":"quantitative","axis":{"orient":"top","values":[100,200,300,400,500,600,700,800,900],"labels":false,"title":null,"zindex":1}},"y":{"field":"y","type":"quantitative","axis":{"orient":"right","values":[0,100,200,300,400,500,600,700,800,900,1000],"labels":false,"title":null,"zindex":1}}}}
  ],"resolve":{"axis":{"x":"independent","y":"independent"}}},
  {"layer":[
    {"data":{"values":[{}]},"mark":{"type":"rect","fill":"white","stroke":"#555","strokeWidth":1},"encoding":{"x":{"datum":1,"type":"quantitative","scale":{"domain":[-4.175,19.585],"nice":false,"zero":false},"axis":{"orient":"bottom","offset":-62.4,"values":[5,10],"title":null,"tickSize":-3,"labelPadding":9.5,"format":"d","zindex":1}},"x2":{"datum":10},"y":{"datum":0,"type":"quantitative","scale":{"domain":[-0.774,1.31],"nice":false,"zero":false},"axis":{"orient":"left","offset":-57.5,"values":[0,0.5,1],"title":null,"tickSize":-3,"labelPadding":10.3,"format":".1~f","zindex":1}},"y2":{"datum":1}}},
    {"data":{"name":"i11"},"mark":{"type":"line","strokeWidth":2.5},"encoding":{"x":{"field":"x","type":"quantitative","axis":{"orient":"bottom","offset":-62.4,"values":[5,10],"title":null,"tickSize":-3,"labelPadding":9.5,"format":"d","zindex":1}},"y":{"field":"y","type":"quantitative","axis":{"orient":"left","offset":-57.5,"values":[0,0.5,1],"title":null,"tickSize":-3,"labelPadding":10.3,"format":".1~f","zindex":1}},"color":{"field":"s","type":"nominal","scale":{"domain":["cutoff","inverse","ED"],"range":["#e00000","#88ee44","#0000ee"]},"legend":{"values":["inverse"],"title":null,"legendX":158.3,"legendY":182.8,"symbolSize":13225,"labelOffset":-132}}}}
  ]}
 ],"resolve":{"scale":{"x":"independent","y":"independent"},"axis":{"x":"independent","y":"independent"}}},
{"width":264,"height":168,"title":{"text":"1E9S"},
 "layer":[
  {"data":{"name":"m12"},"layer":[
    {"mark":{"type":"line","clip":true},"encoding":{"x":{"field":"x","type":"quantitative","scale":{"domain":[-653,7450],"nice":false,"zero":false},"axis":{"values":[1000,2000,3000,4000,5000,6000,7000],"title":"Eigenvalues","format":"d","zindex":1}},"y":{"field":"y","type":"quantitative","scale":{"domain":[0,10000],"nice":false},"axis":{"values":[0,1000,2000,3000,4000,5000,6000,7000,8000,9000,10000],"title":"Foce Constant","format":"d","zindex":1,"titlePadding":6.2}},"color":{"field":"s","type":"nominal","scale":{"domain":["cutoff","inverse","ED"],"range":["#e00000","#88ee44","#0000ee"]},"legend":{"values":["ED"],"title":null,"legendX":48.3,"legendY":185.3,"symbolSize":12100,"labelOffset":-120}}}},
    {"mark":{"type":"line","opacity":0},"encoding":{"x":{"field":"x","type":"quantitative","axis":{"orient":"top","values":[1000,2000,3000,4000,5000,6000,7000],"labels":false,"title":null,"zindex":1}},"y":{"field":"y","type":"quantitative","axis":{"orient":"right","values":[0,1000,2000,3000,4000,5000,6000,7000,8000,9000,10000],"labels":false,"title":null,"zindex":1}}}}
  ],"resolve":{"axis":{"x":"independent","y":"independent"}}},
  {"layer":[
    {"data":{"values":[{}]},"mark":{"type":"rect","fill":"white","stroke":"#555","strokeWidth":1},"encoding":{"x":{"datum":1,"type":"quantitative","scale":{"domain":[-4.247,19.513],"nice":false,"zero":false},"axis":{"orient":"bottom","offset":-62.4,"values":[5,10],"title":null,"tickSize":-3,"labelPadding":9.5,"format":"d","zindex":1}},"x2":{"datum":10},"y":{"datum":0,"type":"quantitative","scale":{"domain":[-0.774,1.31],"nice":false,"zero":false},"axis":{"orient":"left","offset":-58.3,"values":[0,0.5,1],"title":null,"tickSize":-3,"labelPadding":10.3,"format":".1~f","zindex":1}},"y2":{"datum":1}}},
    {"data":{"name":"i12"},"mark":{"type":"line","strokeWidth":2.5},"encoding":{"x":{"field":"x","type":"quantitative","axis":{"orient":"bottom","offset":-62.4,"values":[5,10],"title":null,"tickSize":-3,"labelPadding":9.5,"format":"d","zindex":1}},"y":{"field":"y","type":"quantitative","axis":{"orient":"left","offset":-58.3,"values":[0,0.5,1],"title":null,"tickSize":-3,"labelPadding":10.3,"format":".1~f","zindex":1}},"color":{"field":"s","type":"nominal","scale":{"domain":["cutoff","inverse","ED"],"range":["#e00000","#88ee44","#0000ee"]},"legend":{"values":["ED"],"title":null,"legendX":48.3,"legendY":185.3,"symbolSize":12100,"labelOffset":-120}}}}
  ]}
 ],"resolve":{"scale":{"x":"independent","y":"independent"},"axis":{"x":"independent","y":"independent"}}}
]
}
